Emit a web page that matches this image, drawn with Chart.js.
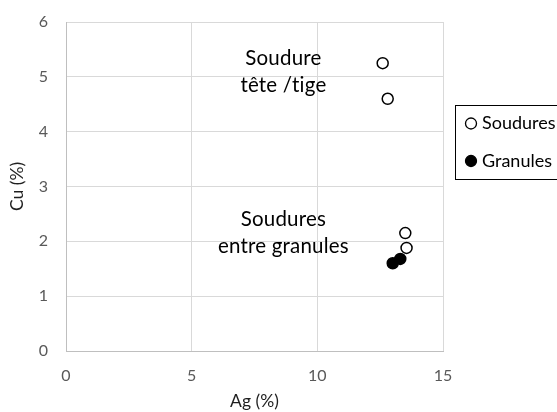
<!DOCTYPE html>
<html>
<head>
<meta charset="utf-8">
<script src="https://cdn.jsdelivr.net/npm/chart.js@4"></script>
<style>
  html, body { margin: 0; padding: 0; background: #fff; overflow: hidden; }
  #wrap { width: 557px; height: 412px; }
</style>
</head>
<body>
<div id="wrap"><canvas id="myChart" width="557" height="412"></canvas></div>
<script>
// data
const seriesNames = ["Soudures", "Granules"];
const soudAg = [12.6, 12.8, 13.5, 13.55];
const soudCu = [5.25, 4.6, 2.15, 1.88];
const granAg = [13.0, 13.3];
const granCu = [1.6, 1.68];
const xTicks = [0, 5, 10, 15];
const yTicks = [0, 1, 2, 3, 4, 5, 6];
const noteLines = [["Soudure", "tête /tige"], ["Soudures", "entre granules"]];

const FONT = "Lato, 'Open Sans', sans-serif";
const gridColor = "#d9d9d9";
const tickColor = "#595959";
const titleColor = "#1f1f1f";

const toPoints = (xs, ys) => xs.map((x, i) => ({ x: x, y: ys[i] }));

// text notes, placed in data units
const notes = [
    { lines: noteLines[0], x: 8.65, y: 5.33, step: 0.49 },
    { lines: noteLines[1], x: 8.65, y: 2.40, step: 0.50 }
];

const notesPlugin = {
    id: "notes",
    afterDatasetsDraw(chart) {
        const ctx = chart.ctx;
        const xs = chart.scales.x, ys = chart.scales.y;
        ctx.save();
        ctx.fillStyle = "#000";
        ctx.font = "20.5px " + FONT;
        ctx.letterSpacing = "0.2px"; // keeps "ti" from turning into a ligature
        ctx.textAlign = "center";
        ctx.textBaseline = "middle";
        notes.forEach(n => {
            n.lines.forEach((line, i) => {
                ctx.fillText(line, xs.getPixelForValue(n.x), ys.getPixelForValue(n.y - i * n.step));
            });
        });
        ctx.restore();
    }
};

// boxed legend on the right, partly cut by the edge like the original
const boxLegend = {
    id: "boxLegend",
    afterDraw(chart) {
        const ctx = chart.ctx;
        const left = chart.chartArea.right + 12.5;
        const top = 105.5;
        ctx.save();
        ctx.strokeStyle = "#000";
        ctx.lineWidth = 1;
        ctx.strokeRect(left, top, 130, 74);
        ctx.font = "18px " + FONT;
        ctx.textBaseline = "middle";
        ctx.fillStyle = "#000";
        chart.data.datasets.forEach((ds, i) => {
            const cy = top + 18 + i * 37.5;
            ctx.beginPath();
            ctx.arc(left + 15.5, cy, 5.5, 0, Math.PI * 2);
            ctx.fillStyle = ds.backgroundColor;
            ctx.fill();
            ctx.lineWidth = 1.3;
            ctx.strokeStyle = ds.borderColor;
            ctx.stroke();
            ctx.fillStyle = "#000";
            ctx.fillText(ds.label, left + 26.5, cy);
        });
        ctx.restore();
    }
};

const ctx = document.getElementById("myChart");

const myChart = new Chart(ctx, {
    type: "scatter",
    data: {
        datasets: [
            {
                label: seriesNames[0],
                data: toPoints(soudAg, soudCu),
                backgroundColor: "#ffffff",
                borderColor: "#000000",
                borderWidth: 1.5,
                pointRadius: 5.5
            },
            {
                label: seriesNames[1],
                data: toPoints(granAg, granCu),
                backgroundColor: "#000000",
                borderColor: "#000000",
                borderWidth: 1.5,
                pointRadius: 5.5
            }
        ]
    },
    options: {
        responsive: false,
        animation: false,
        layout: { padding: { top: 22, right: 114, left: 0, bottom: 0 } },
        plugins: {
            legend: { display: false },
            tooltip: { enabled: false }
        },
        scales: {
            x: {
                type: "linear",
                min: 0,
                max: 15,
                afterBuildTicks: (scale) => { scale.ticks = xTicks.map(v => ({ value: v })); },
                afterFit: (scale) => { scale.height = 61; },
                grid: { color: gridColor, drawTicks: false },
                border: { color: "#bfbfbf" },
                ticks: { color: tickColor, font: { family: FONT, size: 16 }, padding: 15 },
                title: {
                    display: true,
                    text: "Ag (%)",
                    color: titleColor,
                    font: { family: FONT, size: 17.5 },
                    padding: { top: 0, bottom: 0 }
                }
            },
            y: {
                type: "linear",
                min: 0,
                max: 6,
                afterBuildTicks: (scale) => { scale.ticks = yTicks.map(v => ({ value: v })); },
                afterFit: (scale) => {
                    scale.width = 66;
                    // tick padding otherwise pushes the plot top down
                    scale.paddingTop = 0;
                    scale.paddingBottom = 0;
                },
                grid: { color: gridColor, drawTicks: false },
                border: { color: "#bfbfbf" },
                ticks: { color: tickColor, font: { family: FONT, size: 16 }, padding: 18 },
                title: {
                    display: true,
                    text: "Cu (%)",
                    color: titleColor,
                    font: { family: FONT, size: 17.5 },
                    padding: { top: 7, bottom: 0 }
                }
            }
        }
    },
    plugins: [notesPlugin, boxLegend]
});
</script>
</body>
</html>
